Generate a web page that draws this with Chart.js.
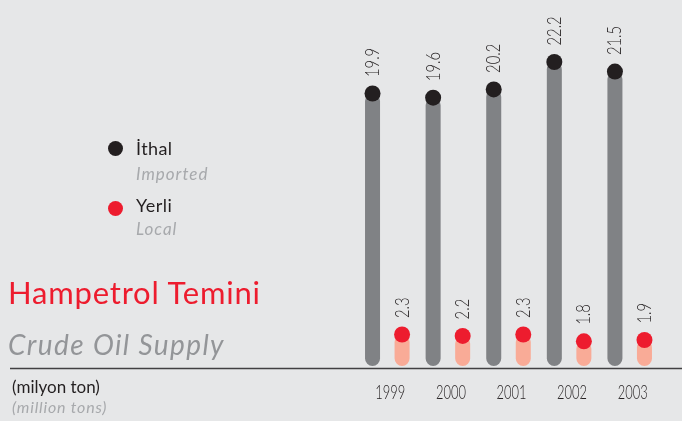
<!DOCTYPE html>
<html>
<head>
<meta charset="utf-8">
<script src="https://cdn.jsdelivr.net/npm/chart.js@4"></script>
<style>
  html, body { margin:0; padding:0; background:#e6e7e8; }
  body { width:682px; height:421px; position:relative; overflow:hidden; font-family: Lato, "Open Sans", sans-serif; }
  canvas { position:absolute; left:0; top:0; }
  .t { position:absolute; white-space:nowrap; line-height:1; }
  .dot { position:absolute; width:15px; height:15px; border-radius:50%; }
</style>
</head>
<body>
<canvas id="c" width="682" height="421"></canvas>

<div class="dot" style="left:107.5px; top:140.5px; background:#231f20;"></div>
<div class="t" style="left:136px; top:139px; font-size:18px; letter-spacing:0.4px; color:#231f20;">İthal</div>
<div class="t" style="left:136px; top:165px; font-size:17px; letter-spacing:1px; font-style:italic; color:#a7a9ac;">Imported</div>
<div class="dot" style="left:107.5px; top:200.5px; background:#ed1c2e;"></div>
<div class="t" style="left:136px; top:196px; font-size:18px; letter-spacing:0.5px; color:#231f20;">Yerli</div>
<div class="t" style="left:136px; top:220px; font-size:17px; letter-spacing:1px; font-style:italic; color:#a7a9ac;">Local</div>

<div class="t" style="left:8px; top:277px; font-size:31px; letter-spacing:0.8px; color:#ed1c2e;">Hampetrol Temini</div>
<div class="t" style="left:8px; top:330px; font-size:28px; font-style:italic; color:#939598; letter-spacing:1.4px;">Crude Oil Supply</div>
<div class="t" style="left:12px; top:378px; font-size:17px; color:#231f20;">(milyon ton)</div>
<div class="t" style="left:12px; top:399px; font-size:16px; letter-spacing:0.8px; font-style:italic; color:#a7a9ac;">(million tons)</div>

<script>
const years = ['1999', '2000', '2001', '2002', '2003'];
const importedValues = [19.9, 19.6, 20.2, 22.2, 21.5];
const localValues = [2.3, 2.2, 2.3, 1.8, 1.9];

const markPlugin = {
  id: 'marks',
  afterDatasetsDraw(chart) {
    const ctx = chart.ctx;
    const ys = chart.scales.y;
    const xs = chart.scales.x;
    // baseline
    const by = ys.getPixelForValue(0) + 2.5;
    ctx.save();
    ctx.strokeStyle = '#414042';
    ctx.lineWidth = 1.6;
    ctx.beginPath();
    ctx.moveTo(10, by);
    ctx.lineTo(chart.width, by);
    ctx.stroke();
    ctx.restore();

    chart.data.datasets.forEach((ds, i) => {
      const meta = chart.getDatasetMeta(i);
      meta.data.forEach((bar, j) => {
        ctx.save();
        ctx.fillStyle = ds.dotColor;
        ctx.beginPath();
        ctx.arc(bar.x, bar.y, 8, 0, Math.PI * 2);
        ctx.fill();
        ctx.restore();

        ctx.save();
        ctx.translate(bar.x, bar.y - 16.5);
        ctx.rotate(-Math.PI / 2);
        ctx.scale(0.74, 1);
        ctx.font = '300 20px Lato';
        ctx.fillStyle = '#231f20';
        ctx.textAlign = 'left';
        ctx.textBaseline = 'middle';
        ctx.fillText(ds.data[j].toFixed(1), 0, 0);
        ctx.restore();
      });
    });

    // year labels
    chart.data.labels.forEach((lab, j) => {
      ctx.save();
      ctx.translate(xs.getPixelForValue(j) + 3, by + 24);
      ctx.scale(0.68, 1);
      ctx.font = '300 19px Lato';
      ctx.fillStyle = '#231f20';
      ctx.textAlign = 'center';
      ctx.textBaseline = 'middle';
      ctx.fillText(lab, 0, 0);
      ctx.restore();
    });
  }
};

new Chart(document.getElementById('c'), {
  type: 'bar',
  data: {
    labels: years,
    datasets: [
      {
        label: 'İthal',
        data: importedValues,
        backgroundColor: '#808285',
        dotColor: '#231f20',
        borderRadius: 8,
        borderSkipped: false,
        categoryPercentage: 0.975,
        barPercentage: 0.508
      },
      {
        label: 'Yerli',
        data: localValues,
        backgroundColor: '#f9ab97',
        dotColor: '#ed1c2e',
        borderRadius: 8,
        borderSkipped: false,
        categoryPercentage: 0.975,
        barPercentage: 0.508
      }
    ]
  },
  options: {
    responsive: false,
    animation: false,
    devicePixelRatio: 1,
    layout: { padding: { left: 357, right: 22, top: 10, bottom: 55 } },
    plugins: { legend: { display: false }, tooltip: { enabled: false } },
    scales: {
      x: { display: false, offset: true },
      y: { display: false, min: 0, max: 26 }
    }
  },
  plugins: [markPlugin]
});
</script>
</body>
</html>
